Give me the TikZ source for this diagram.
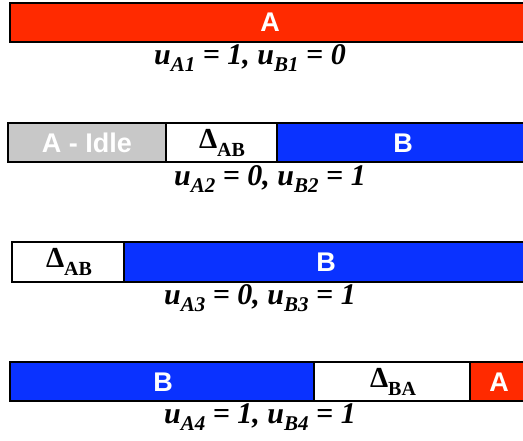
\documentclass[tikz,border=0pt]{standalone}
\usepackage{fontspec}
\setmainfont{Liberation Serif}
\setsansfont{Liberation Sans}
\usetikzlibrary{positioning}

\definecolor{slotred}{RGB}{255,42,0}
\definecolor{slotblue}{RGB}{10,50,255}
\definecolor{idlegray}{RGB}{200,200,200}

\newcommand{\usub}[1]{\raisebox{-0.55ex}{\fontsize{21}{21}\selectfont #1}}
\newcommand{\dsub}[1]{Δ\raisebox{-0.6ex}{\fontsize{20}{20}\selectfont #1}}

\tikzset{
  slot/.style={draw=black, line width=1.8pt},
  slottext/.style={text=white, font=\sffamily\bfseries\fontsize{27}{27}\selectfont},
  deltatext/.style={font=\bfseries\fontsize{29}{29}\selectfont},
  utiltext/.style={font=\bfseries\itshape\fontsize{30}{30}\selectfont},
}

\begin{document}
\begin{tikzpicture}[x=1pt, y=-1pt]
    \clip (0,0) rectangle (523,440);
    % Row 1
    \filldraw[slot, fill=slotred] (10,3) rectangle (530,42);
    \node[slottext] (a1) at (270,22) {A};
    \node[utiltext] (u1) at (250,58) {u\usub{A1} = 1, u\usub{B1} = 0};

    % Row 2
    \filldraw[slot, fill=idlegray] (8,123) rectangle (166,162);
    \filldraw[slot, fill=white] (166,123) rectangle (277,162);
    \filldraw[slot, fill=slotblue] (277,123) rectangle (530,162);
    \node[slottext] (idle2) at (87,143) {A - Idle};
    \node[deltatext] (d2) at (222,143) {\dsub{AB}};
    \node[slottext] (b2) at (403,143) {B};
    \node[utiltext] (u2) at (270,179) {u\usub{A2} = 0, u\usub{B2} = 1};

    % Row 3
    \filldraw[slot, fill=white] (12,242) rectangle (124,282);
    \filldraw[slot, fill=slotblue] (124,242) rectangle (530,282);
    \node[deltatext] (d3) at (69,262) {\dsub{AB}};
    \node[slottext] (b3) at (326,262) {B};
    \node[utiltext] (u3) at (260,298) {u\usub{A3} = 0, u\usub{B3} = 1};

    % Row 4
    \filldraw[slot, fill=slotblue] (10,362) rectangle (314,401);
    \filldraw[slot, fill=white] (314,362) rectangle (470,401);
    \filldraw[slot, fill=slotred] (470,362) rectangle (530,401);
    \node[slottext] (b4) at (163,382) {B};
    \node[deltatext] (d4) at (393,382) {\dsub{BA}};
    \node[slottext] (a4) at (499,382) {A};
    \node[utiltext] (u4) at (260,417) {u\usub{A4} = 1, u\usub{B4} = 1};
  \end{tikzpicture}
\end{document}
